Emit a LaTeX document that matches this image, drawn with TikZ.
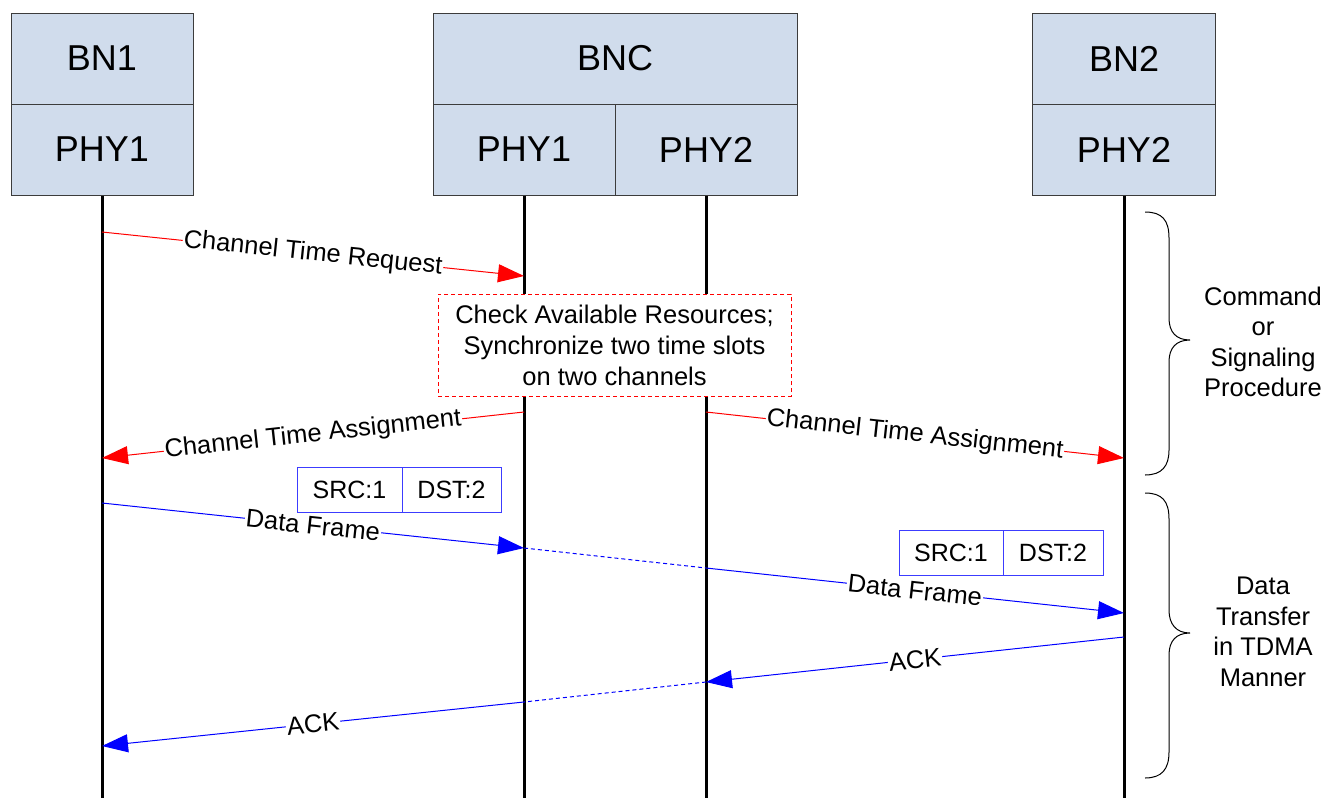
\documentclass[tikz,border=0pt]{standalone}
\usepackage{fontspec}
\setmainfont{Liberation Sans}
\usetikzlibrary{arrows.meta}
\definecolor{boxfill}{RGB}{208,220,236}
\definecolor{boxline}{RGB}{60,60,60}
\definecolor{srcblue}{RGB}{60,60,255}
\begin{document}
\begin{tikzpicture}[x=1pt,y=-1pt,
  hdr/.style={draw=boxline, fill=boxfill, line width=1pt, minimum height=91pt, inner sep=0pt, font=\fontsize{36}{43}\selectfont},
  lifeline/.style={line width=3pt, black},
  redmsg/.style={draw=red, line width=1pt, -{Triangle[length=26pt,width=18pt]}},
  bluemsg/.style={draw=blue, line width=1pt, -{Triangle[length=26pt,width=18pt]}},
  bluedash/.style={draw=blue, line width=1pt, dash pattern=on 4pt off 3pt},
  msglabel/.style={sloped, fill=white, inner sep=1pt, font=\fontsize{25.5}{30}\selectfont},
  notebox/.style={draw=red, line width=0.8pt, dash pattern=on 4pt off 3pt, fill=white, align=center, minimum width=353pt, minimum height=102pt, inner sep=0pt, font=\fontsize{25.5}{31}\selectfont},
  addrbox/.style={draw=srcblue, line width=1pt, fill=white, minimum height=45pt, inner sep=0pt, font=\fontsize{25}{30}\selectfont},
  bracetext/.style={align=center, font=\fontsize{25.5}{30.5}\selectfont},
  bracepath/.style={draw=black, line width=1pt}
]
\useasboundingbox (0,0) rectangle (1327,798);

% header boxes
\node[hdr, minimum width=182pt] (bn1) at (102,58.5) {BN1};
\node[hdr, minimum width=182pt] (bn1phy) at (102,149.5) {PHY1};
\node[hdr, minimum width=364pt] (bnc) at (615,58.5) {BNC};
\node[hdr, minimum width=182pt] (bncphy1) at (524,149.5) {PHY1};
\node[hdr, minimum width=182pt] (bncphy2) at (706,149.5) {PHY2};
\node[hdr, minimum width=183pt] (bn2) at (1124,58.5) {BN2};
\node[hdr, minimum width=183pt] (bn2phy) at (1124,149.5) {PHY2};

% lifeline ends
\coordinate (l1) at (102,798);
\coordinate (l2) at (524,798);
\coordinate (l3) at (706,798);
\coordinate (l4) at (1124,798);
\draw[lifeline] (bn1phy.south) -- (l1);
\draw[lifeline] (bncphy1.south) -- (l2);
\draw[lifeline] (bncphy2.south) -- (l3);
\draw[lifeline] (bn2phy.south) -- (l4);

% message points
\coordinate (r1a) at (102,232);
\coordinate (r1b) at (524,276);
\coordinate (r2a) at (524,412);
\coordinate (r2b) at (102,458);
\coordinate (r3a) at (706,412);
\coordinate (r3b) at (1124,458);
\coordinate (d1a) at (102,503);
\coordinate (d1b) at (524,548);
\coordinate (d2a) at (706,568);
\coordinate (d2b) at (1124,613);
\coordinate (k1a) at (1124,637);
\coordinate (k1b) at (706,682);
\coordinate (k2a) at (524,702);
\coordinate (k2b) at (102,746);

% note box
\node[notebox] (note) at (614.5,345) {Check Available Resources;\\Synchronize two time slots\\on two channels};

% red messages
\draw[redmsg] (r1a) -- (r1b) node[msglabel, midway] {Channel Time Request};
\draw[redmsg] (r2a) -- (r2b) node[msglabel, midway] {Channel Time Assignment};
\draw[redmsg] (r3a) -- (r3b) node[msglabel, midway] {Channel Time Assignment};

% address boxes
\node[addrbox, minimum width=105pt] (src1) at (349.5,489.5) {SRC:1};
\node[addrbox, minimum width=99pt] (dst1) at (451.5,489.5) {DST:2};
\node[addrbox, minimum width=104pt] (src2) at (951,553) {SRC:1};
\node[addrbox, minimum width=100pt] (dst2) at (1053,553) {DST:2};

% data and ack
\draw[bluemsg] (d1a) -- (d1b) node[msglabel, midway] {Data Frame};
\draw[bluedash] (d1b) -- (d2a);
\draw[bluemsg] (d2a) -- (d2b) node[msglabel, midway] {Data Frame};
\draw[bluemsg] (k1a) -- (k1b) node[msglabel, midway] {ACK};
\draw[bluedash] (k1b) -- (k2a);
\draw[bluemsg] (k2a) -- (k2b) node[msglabel, midway] {ACK};

% braces
\draw[bracepath] (1145,212) .. controls (1162,212) and (1169,220) .. (1169,238) -- (1169,318)
  .. controls (1169,332) and (1176,340) .. (1190,340)
  .. controls (1176,340) and (1169,348) .. (1169,362) -- (1169,450)
  .. controls (1169,466) and (1162,475) .. (1145,475);
\draw[bracepath] (1145,493) .. controls (1162,493) and (1169,501) .. (1169,519) -- (1169,610)
  .. controls (1169,624) and (1176,633) .. (1190,633)
  .. controls (1176,633) and (1169,641) .. (1169,655) -- (1169,752)
  .. controls (1169,769) and (1162,778) .. (1145,778);
\node[bracetext] (cmd) at (1263,342) {Command\\or\\Signaling\\Procedure};
\node[bracetext] (dat) at (1263,632) {Data\\Transfer\\in TDMA\\Manner};
\end{tikzpicture}
\end{document}
